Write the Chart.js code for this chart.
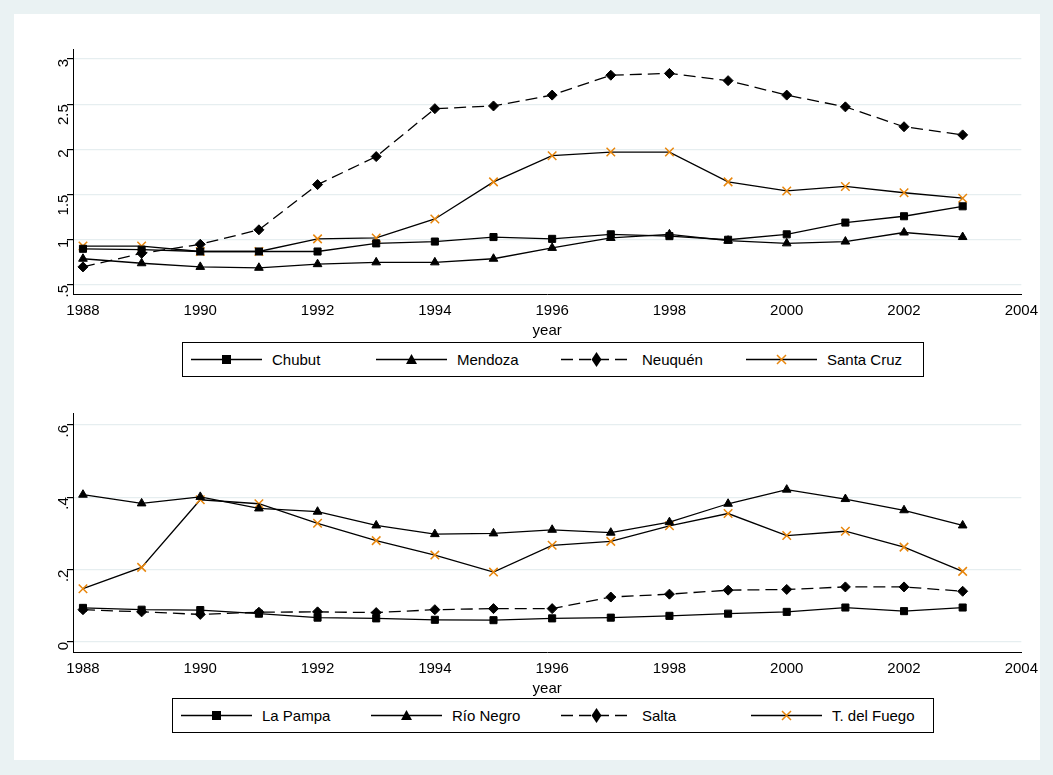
<!DOCTYPE html>
<html lang="en">
<head>
<meta charset="UTF-8" />
<title>Provinces</title>
<script src="https://cdn.jsdelivr.net/npm/chart.js"></script>
<style>
  body { margin: 0; background: #eaf2f3; font-family: "Liberation Sans", Arial, sans-serif; }
  #frame { position: absolute; left: 14px; top: 14px; width: 1026px; height: 746px; background: #fff; }
  .box { position: absolute; }
  .legend { position: absolute; border: 1px solid #000; display: flex; align-items: center; font-size: 15px; background: #fff; }
  .legend .item { display: flex; align-items: center; flex: 1; }
  .legend svg { margin-right: 10px; margin-left: 8px; }
</style>
</head>
<body>
<div id="frame"></div>
<div class="box" style="left:20px;top:37px;width:1020px;height:303px"><canvas id="top"></canvas></div>
<div class="legend" id="leg1" style="left:182px;top:342px;width:740px;height:33px"></div>
<div class="box" style="left:20px;top:401px;width:1020px;height:297px"><canvas id="bottom"></canvas></div>
<div class="legend" id="leg2" style="left:172px;top:698px;width:760px;height:33px"></div>
<script>
  const years = [1988,1989,1990,1991,1992,1993,1994,1995,1996,1997,1998,1999,2000,2001,2002,2003];
  const xTicks = [1988,1990,1992,1994,1996,1998,2000,2002,2004];

  const chubut = [0.90,0.89,0.87,0.87,0.87,0.96,0.98,1.03,1.01,1.06,1.04,1.00,1.06,1.19,1.26,1.37];
  const mendoza = [0.79,0.74,0.70,0.69,0.73,0.75,0.75,0.79,0.91,1.02,1.06,0.99,0.96,0.98,1.08,1.03];
  const neuquen = [0.70,0.85,0.95,1.11,1.61,1.92,2.45,2.48,2.60,2.82,2.84,2.76,2.60,2.47,2.25,2.16];
  const santaCruz = [0.93,0.93,0.87,0.87,1.01,1.02,1.23,1.64,1.93,1.97,1.97,1.64,1.54,1.59,1.52,1.46];
  const topTicks = [0.5,1,1.5,2,2.5,3];

  const laPampa = [0.094,0.089,0.088,0.078,0.067,0.065,0.061,0.060,0.065,0.067,0.072,0.078,0.083,0.095,0.085,0.095];
  const rioNegro = [0.407,0.383,0.401,0.369,0.360,0.322,0.298,0.300,0.310,0.302,0.331,0.382,0.421,0.395,0.364,0.322];
  const salta = [0.089,0.083,0.076,0.082,0.083,0.081,0.089,0.092,0.092,0.124,0.132,0.143,0.145,0.152,0.152,0.140];
  const delFuego = [0.147,0.206,0.393,0.382,0.328,0.280,0.240,0.193,0.267,0.278,0.321,0.355,0.294,0.306,0.262,0.195];
  const bottomTicks = [0,0.2,0.4,0.6];

  const orange = "#e8860c";
  const styles = [
    { point: "rect", color: "#000", dash: [], radius: 5 },
    { point: "triangle", color: "#000", dash: [], radius: 5 },
    { point: "rectRot", color: "#000", dash: [12, 6], radius: 5 },
    { point: "crossRot", color: orange, dash: [], radius: 6 }
  ];
  const font = { family: "'Liberation Sans', Arial, sans-serif", size: 15 };

  function fmt(v) { return String(v).replace(/^0\./, "."); }

  function makeChart(id, names, series, yMin, yMax, yTicks, leftW, topPad) {
    const datasets = series.map((s, i) => ({
      label: names[i],
      data: years.map((y, k) => ({ x: y, y: s[k] })),
      borderColor: "#000",
      borderWidth: 1.3,
      borderDash: styles[i].dash,
      pointStyle: styles[i].point,
      pointRadius: styles[i].radius,
      pointBackgroundColor: styles[i].color,
      pointBorderColor: styles[i].color,
      pointBorderWidth: styles[i].point === "crossRot" ? 1.5 : 1,
      tension: 0
    }));
    new Chart(document.getElementById(id), {
      type: "line",
      data: { datasets },
      options: {
        responsive: true, maintainAspectRatio: false, animation: false,
        layout: { padding: { top: topPad, right: 14, left: 0, bottom: 0 } },
        plugins: { legend: { display: false }, tooltip: { enabled: false } },
        scales: {
          x: {
            type: "linear", min: 1987.83, max: 2004,
            afterBuildTicks: s => { s.ticks = xTicks.map(v => ({ value: v })); },
            ticks: { color: "#000", font, padding: 2, maxRotation: 0, callback: v => String(v) },
            grid: { display: false, drawOnChartArea: false, tickLength: 6, color: "#000" },
            border: { color: "#000", width: 1 },
            title: { display: true, text: "year", color: "#000", font, padding: 0 }
          },
          y: {
            min: yMin, max: yMax,
            afterBuildTicks: s => { s.ticks = yTicks.map(v => ({ value: v })); },
            afterFit: s => { s.width = leftW; },
            ticks: { color: "#000", font, minRotation: 90, maxRotation: 90, padding: 3, callback: v => fmt(v) },
            grid: { color: "#e6eef0", lineWidth: 1.2, tickLength: 6, tickColor: "#000" },
            border: { color: "#000", width: 1 }
          }
        }
      }
    });
  }

  function legend(id, names) {
    const el = document.getElementById(id);
    names.forEach((n, i) => {
      const st = styles[i];
      let mark = "";
      if (st.point === "rect") mark = '<rect x="31" y="5" width="9" height="9" fill="#000"/>';
      if (st.point === "triangle") mark = '<polygon points="35.5,4 41,14 30,14" fill="#000"/>';
      if (st.point === "rectRot") mark = '<polygon points="35.5,2 40.5,9.5 35.5,17 30.5,9.5" fill="#000"/>';
      if (st.point === "crossRot") mark = '<path d="M31,5 L40,14 M40,5 L31,14" stroke="' + orange + '" stroke-width="1.5"/>';
      const dash = st.dash.length ? ' stroke-dasharray="12,6"' : "";
      el.insertAdjacentHTML("beforeend",
        '<div class="item"><svg width="71" height="19"><line x1="0" y1="9.5" x2="71" y2="9.5" stroke="#000" stroke-width="1.3"' + dash + '/>' + mark + '</svg><span>' + n + '</span></div>');
    });
  }

  makeChart("top", ["Chubut","Mendoza","Neuquén","Santa Cruz"], [chubut, mendoza, neuquen, santaCruz], 0.4, 3.11, topTicks, 53, 2);
  makeChart("bottom", ["La Pampa","Río Negro","Salta","T. del Fuego"], [laPampa, rioNegro, salta, delFuego], -0.028, 0.633, bottomTicks, 53, 10);
  legend("leg1", ["Chubut","Mendoza","Neuquén","Santa Cruz"]);
  legend("leg2", ["La Pampa","Río Negro","Salta","T. del Fuego"]);
</script>
</body>
</html>
